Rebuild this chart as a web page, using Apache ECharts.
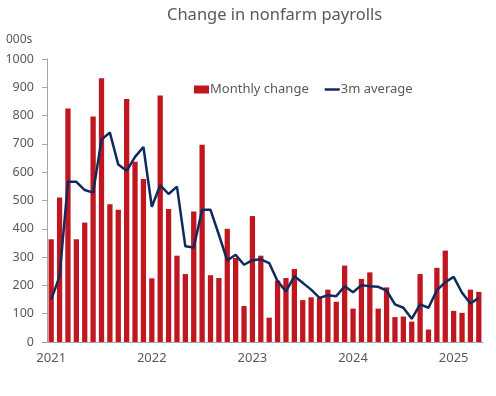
<!DOCTYPE html>
<html lang="en">
  <head>
    <meta charset="utf-8" />
    <title>Change in nonfarm payrolls</title>
    <script src="https://cdn.jsdelivr.net/npm/echarts@6/dist/echarts.min.js"></script>
  </head>
  <style>
    * {
      margin: 0;
      padding: 0;
    }

    body {
      width: 496px;
      height: 396px;
      background: #fff;
    }

    #main {
      width: 496px;
      height: 396px;
    }
  </style>
  <body>
    <div id="main"></div>
    <script>
      // months Jan 2021 .. Apr 2025
      const years = [2021, 2022, 2023, 2024, 2025];
      const months = [];
      years.forEach((y) => {
        for (let m = 1; m <= 12; m++) {
          if (y === 2025 && m > 4) break;
          months.push(y + "-" + String(m).padStart(2, "0"));
        }
      });

      // monthly change, thousands
      const monthlyChange = [
        363, 511, 825, 363, 422, 797, 932, 487, 467, 859, 637, 576,
        225, 871, 470, 305, 240, 461, 697, 236, 226, 400, 297, 127,
        445, 305, 86, 217, 226, 258, 148, 158, 156, 185, 142, 270,
        118, 223, 246, 118, 193, 88, 90, 72, 240, 44, 262, 323,
        110, 103, 185, 177,
      ];

      // 3-month average, thousands
      const avg3m = [
        150, 232, 566, 566, 537, 528, 715, 740, 627, 605, 654, 689,
        478, 554, 523, 549, 338, 334, 467, 467, 379, 288, 308, 273,
        289, 292, 279, 215, 179, 232, 209, 185, 156, 165, 162, 197,
        176, 201, 197, 195, 182, 133, 121, 82, 133, 121, 183, 211,
        230, 174, 136, 156,
      ];

      const yTicks = { min: 0, max: 1000, interval: 100 };

      const textColor = "#595959";
      const axisColor = "#a6a6a6";
      const font = "Noto Sans";

      const chart = echarts.init(document.getElementById("main"));

      const isYearStart = (idx) => idx % 12 === 0;

      chart.setOption({
        animation: false,
        title: [
          {
            text: "Change in nonfarm payrolls",
            left: 167,
            top: 7,
            padding: 0,
            textStyle: {
              fontFamily: font,
              fontSize: 16.5,
              fontWeight: "normal",
              color: textColor,
            },
          },
          {
            text: "000s",
            left: 6,
            top: 34,
            padding: 0,
            textStyle: {
              fontFamily: font,
              fontSize: 12,
              fontWeight: "normal",
              color: textColor,
            },
          },
        ],
        legend: {
          left: 194,
          top: 83,
          itemWidth: 15,
          itemHeight: 8,
          itemGap: 16,
          padding: 0,
          textStyle: {
            fontFamily: font,
            fontSize: 13,
            color: textColor,
            padding: [0, 0, 0, -4],
          },
          data: [
            { name: "Monthly change", icon: "rect" },
            { name: "3m average", icon: "path://M0,0 L15,0 L15,2.5 L0,2.5 Z" },
          ],
        },
        grid: {
          left: 47,
          right: 13,
          top: 59,
          bottom: 54,
        },
        xAxis: {
          type: "category",
          data: months,
          axisLine: { lineStyle: { color: axisColor } },
          axisTick: {
            interval: (idx) => isYearStart(idx),
            length: 5,
            lineStyle: { color: axisColor },
          },
          axisLabel: {
            interval: (idx) => isYearStart(idx),
            formatter: (v) => v.slice(0, 4),
            fontFamily: font,
            fontSize: 13,
            color: textColor,
            margin: 10,
          },
        },
        yAxis: {
          type: "value",
          min: yTicks.min,
          max: yTicks.max,
          interval: yTicks.interval,
          splitLine: { show: false },
          axisLine: { show: true, lineStyle: { color: axisColor } },
          axisTick: { show: true, length: 5, lineStyle: { color: axisColor } },
          axisLabel: {
            formatter: (v) => String(v),
            fontFamily: font,
            fontSize: 12.5,
            color: textColor,
            margin: 13,
          },
        },
        series: [
          {
            name: "Monthly change",
            type: "bar",
            data: monthlyChange,
            barWidth: "63%",
            itemStyle: { color: "#c0161f" },
          },
          {
            name: "3m average",
            type: "line",
            data: avg3m,
            symbol: "none",
            lineStyle: { color: "#0e2b5c", width: 2.5 },
            itemStyle: { color: "#0e2b5c" },
          },
        ],
      });
    </script>
  </body>
</html>
